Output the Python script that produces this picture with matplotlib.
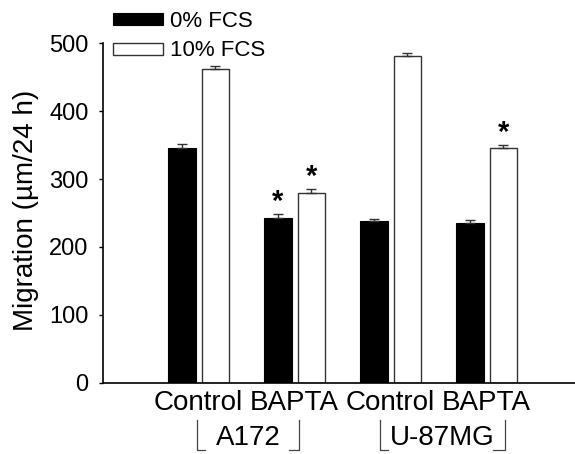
import numpy as np
import matplotlib
matplotlib.use('Agg')
import matplotlib.pyplot as plt
import matplotlib.transforms as mtransforms

plt.rcParams['font.family'] = ['Liberation Sans', 'DejaVu Sans']

# data (migration, um/24 h)
treatments = ['Control', 'BAPTA', 'Control', 'BAPTA']
cell_lines = ['A172', 'U-87MG']
fcs0_mean = [346, 243, 238, 236]
fcs0_err = [6, 6, 3, 4]
fcs10_mean = [462, 280, 482, 346]
fcs10_err = [4, 5, 3, 4]
fcs0_sig = [False, True, False, False]
fcs10_sig = [False, True, False, True]

fig = plt.figure(figsize=(5.75, 4.54), dpi=100)
ax = fig.add_axes([0.1783, 0.157, 0.8217, 0.7476])

x = np.arange(len(treatments))
w = 0.286
off = 0.1745

ax.bar(x - off, fcs0_mean, w, color='black', edgecolor='black', linewidth=0.8, label='0% FCS')
ax.bar(x + off, fcs10_mean, w, color='white', edgecolor='#333333', linewidth=1.0, label='10% FCS')
ax.errorbar(x - off, fcs0_mean, yerr=[np.zeros(4), fcs0_err], fmt='none',
            ecolor='#333333', elinewidth=1, capsize=3.3, capthick=1)
ax.errorbar(x + off, fcs10_mean, yerr=[np.zeros(4), fcs10_err], fmt='none',
            ecolor='#333333', elinewidth=1, capsize=3.3, capthick=1)

# significance stars
for xs, m, e, s in [(x - off, fcs0_mean, fcs0_err, fcs0_sig), (x + off, fcs10_mean, fcs10_err, fcs10_sig)]:
    for i in range(len(xs)):
        if s[i]:
            ax.annotate('*', (xs[i], m[i] + e[i]), xytext=(0, 3), textcoords='offset points',
                        ha='center', va='baseline', fontsize=21, fontweight='bold')

ax.set_xlim(-1.0, 3.92)
ax.set_ylim(0, 500)
ax.set_yticks(range(0, 501, 100))
ax.tick_params(axis='y', labelsize=17, direction='out', length=3, width=1, pad=7)
ax.set_xticks(x)
ax.set_xticklabels(treatments, fontsize=20)
ax.tick_params(axis='x', length=0, pad=5)
for side in ['top', 'right']:
    ax.spines[side].set_visible(False)
for side in ['left', 'bottom']:
    ax.spines[side].set_linewidth(1.2)

fig.text(0.045, 0.536, 'Migration (\u00b5m/24 h)', rotation=90, ha='center', va='center', fontsize=20)

# cell line brackets under the treatment labels
trans = mtransforms.blended_transform_factory(ax.transData, ax.transAxes)
y_top, y_bot, y_txt = -0.11, -0.198, -0.163
brackets = [(-0.02, 1.047, 0.09, 0.11), (1.89, 3.19, 0.085, 0.125)]
for name, (x0, x1, l_len, r_len) in zip(cell_lines, brackets):
    ax.plot([x0, x0, x0 + l_len], [y_top, y_bot, y_bot], color='#444444', lw=0.9,
            transform=trans, clip_on=False)
    ax.plot([x1, x1, x1 - r_len], [y_top, y_bot, y_bot], color='#444444', lw=0.9,
            transform=trans, clip_on=False)
    ax.text((x0 + x1) / 2, y_txt, name, transform=trans, ha='center', va='center', fontsize=20)

ax.legend(loc='upper left', bbox_to_anchor=(113 / 575, 1 - 11 / 454), bbox_transform=fig.transFigure,
          frameon=False, fontsize=16, handlelength=2.25, handleheight=0.45, handletextpad=0.3,
          labelspacing=0.38, borderpad=0, borderaxespad=0)

fig.savefig('out.png', dpi=100)
